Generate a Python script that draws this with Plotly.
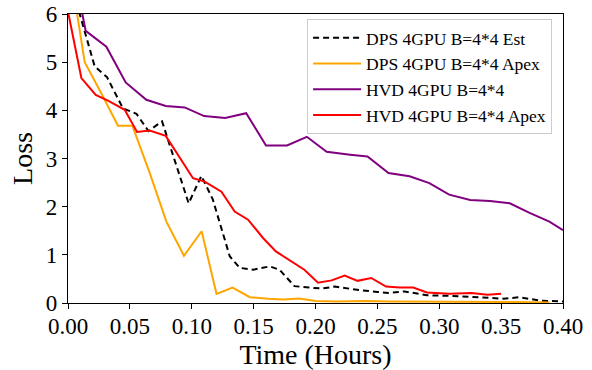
import plotly.graph_objects as go

# DPS 4GPU B=4*4 Est (black dashed)
dps_est_t = [0.0, 0.0216, 0.0315, 0.0444, 0.0553, 0.065, 0.076, 0.0975, 0.1078, 0.117,
             0.1307, 0.1388, 0.1495, 0.163, 0.171, 0.183, 0.195, 0.205, 0.2155, 0.226,
             0.238, 0.250, 0.259, 0.272, 0.290, 0.308, 0.327, 0.352, 0.365, 0.381, 0.40]
dps_est_loss = [6.85, 4.91, 4.69, 4.04, 3.93, 3.57, 3.77, 2.07, 2.64, 2.15,
                0.97, 0.73, 0.69, 0.76, 0.69, 0.35, 0.32, 0.30, 0.34, 0.30,
                0.26, 0.23, 0.21, 0.24, 0.16, 0.15, 0.12, 0.09, 0.12, 0.05, 0.03]

# DPS 4GPU B=4*4 Apex (orange)
dps_apex_t = [0.0, 0.0135, 0.027, 0.0404, 0.052, 0.066, 0.0795, 0.0937, 0.108, 0.120,
              0.133, 0.147, 0.162, 0.174, 0.187, 0.200, 0.217, 0.241, 0.26, 0.28,
              0.30, 0.32, 0.34, 0.36, 0.389]
dps_apex_loss = [7.2, 5.0, 4.35, 3.68, 3.68, 2.70, 1.69, 0.98, 1.49, 0.19,
                 0.32, 0.12, 0.09, 0.075, 0.095, 0.04, 0.03, 0.04, 0.03, 0.03,
                 0.03, 0.02, 0.02, 0.02, 0.01]

# HVD 4GPU B=4*4 (purple)
hvd_t = [0.0, 0.0143, 0.031, 0.0466, 0.0633, 0.079, 0.0943, 0.110, 0.127, 0.144,
         0.160, 0.177, 0.193, 0.209, 0.228, 0.242, 0.259, 0.276, 0.292, 0.308,
         0.325, 0.341, 0.357, 0.373, 0.389, 0.40]
hvd_loss = [7.5, 5.65, 5.32, 4.58, 4.22, 4.09, 4.06, 3.88, 3.84, 3.94,
            3.27, 3.27, 3.45, 3.14, 3.08, 3.04, 2.70, 2.63, 2.49, 2.25,
            2.14, 2.12, 2.07, 1.87, 1.69, 1.51]

# HVD 4GPU B=4*4 Apex (red)
hvd_apex_t = [0.0, 0.0108, 0.0224, 0.0323, 0.0458, 0.0558, 0.066, 0.079, 0.101, 0.1105,
              0.124, 0.1347, 0.1455, 0.1576, 0.168, 0.1805, 0.191, 0.202, 0.213, 0.2236,
              0.234, 0.245, 0.257, 0.268, 0.279, 0.290, 0.308, 0.326, 0.339, 0.350]
hvd_apex_loss = [6.05, 4.67, 4.32, 4.20, 4.01, 3.55, 3.58, 3.47, 2.59, 2.52,
                 2.31, 1.90, 1.73, 1.35, 1.07, 0.86, 0.69, 0.42, 0.47, 0.57,
                 0.46, 0.52, 0.34, 0.32, 0.32, 0.22, 0.19, 0.21, 0.17, 0.19]

series_names = ["DPS 4GPU B=4*4 Est", "DPS 4GPU B=4*4 Apex",
                "HVD 4GPU B=4*4", "HVD 4GPU B=4*4 Apex"]

x_ticks = [0.0, 0.05, 0.10, 0.15, 0.20, 0.25, 0.30, 0.35, 0.40]
y_ticks = [0, 1, 2, 3, 4, 5, 6]

FONT = "Liberation Serif, Times New Roman, serif"

fig = go.Figure()
fig.add_trace(go.Scatter(x=dps_est_t, y=dps_est_loss, mode="lines", name=series_names[0],
                         line=dict(color="black", width=2, dash="6px,4px")))
fig.add_trace(go.Scatter(x=dps_apex_t, y=dps_apex_loss, mode="lines", name=series_names[1],
                         line=dict(color="orange", width=2)))
fig.add_trace(go.Scatter(x=hvd_t, y=hvd_loss, mode="lines", name=series_names[2],
                         line=dict(color="purple", width=2)))
fig.add_trace(go.Scatter(x=hvd_apex_t, y=hvd_apex_loss, mode="lines", name=series_names[3],
                         line=dict(color="red", width=2)))

axis_common = dict(showline=True, linecolor="black", linewidth=1.2, mirror=True,
                   ticks="outside", ticklen=5, tickwidth=1, tickcolor="black",
                   showgrid=False, zeroline=False, automargin=False,
                   ticklabeloverflow="allow",
                   tickfont=dict(family=FONT, size=23, color="black"))

fig.update_xaxes(range=[0, 0.4], tickvals=x_ticks, tickformat=".2f",
                 ticklabelstandoff=-3,
                 title=dict(text="Time (Hours)", font=dict(family=FONT, size=28, color="black"),
                            standoff=0),
                 **axis_common)
fig.update_yaxes(range=[0, 6], tickvals=y_ticks,
                 title=dict(text="Loss", font=dict(family=FONT, size=28, color="black"),
                            standoff=4),
                 **axis_common)

fig.update_layout(
    width=592, height=370,
    margin=dict(l=68, r=29, t=14, b=67),
    paper_bgcolor="white", plot_bgcolor="white",
    font=dict(family=FONT, color="black"),
    showlegend=True,
    legend=dict(x=0.483, y=0.983, xanchor="left", yanchor="top",
                bgcolor="rgba(255,255,255,0.8)", bordercolor="#cccccc", borderwidth=1,
                font=dict(family=FONT, size=17.5, color="black"),
                itemwidth=48, tracegroupgap=0),
)

# remove the default page margin so the figure fills the window exactly
fig.write_html("out.html", config={"displayModeBar": False},
               post_script="document.body.style.margin='0px';")
